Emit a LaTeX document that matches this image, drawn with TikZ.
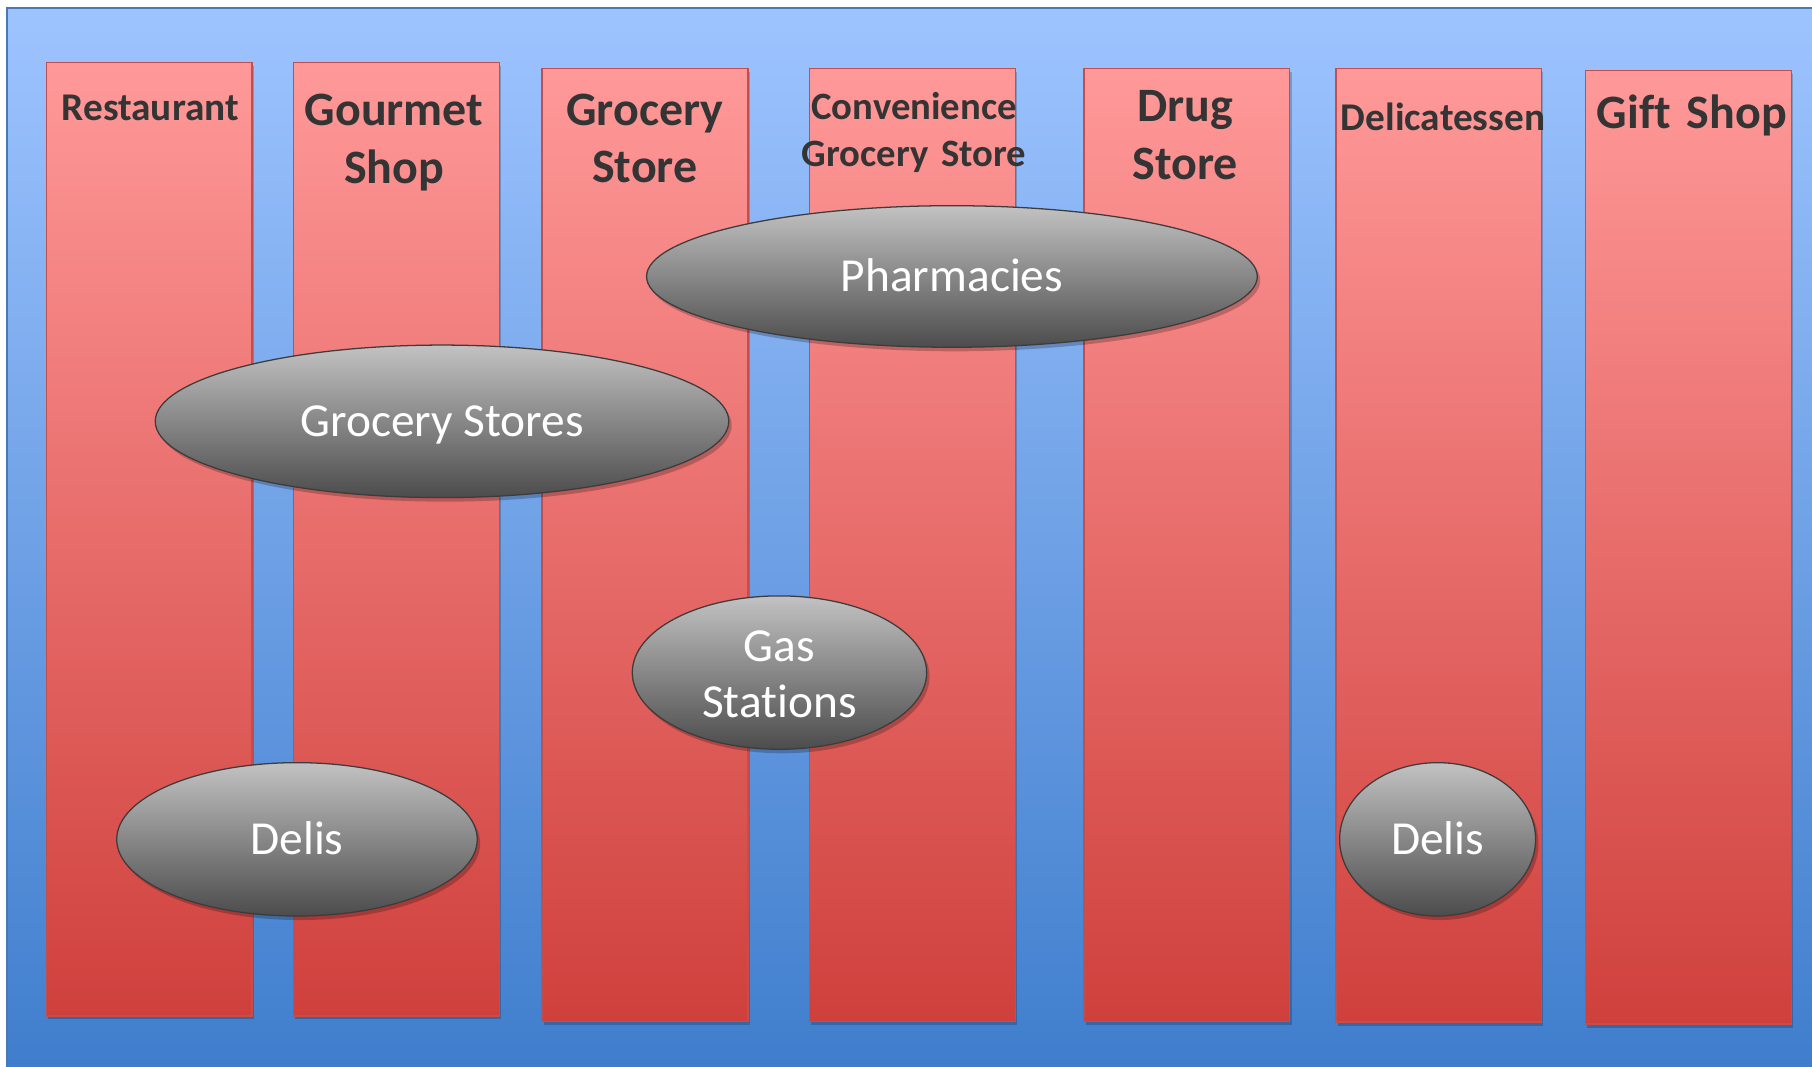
\documentclass[tikz,border=0pt]{standalone}
\usepackage{fontspec}
\setmainfont{Carlito}[Ligatures=NoCommon, BoldFeatures={WordSpace=0.8}]
\usetikzlibrary{shapes.geometric,shadows}
\definecolor{bgtop}{RGB}{158,196,255}
\definecolor{bgbot}{RGB}{62,125,204}
\definecolor{bgline}{RGB}{74,120,180}
\definecolor{coltop}{RGB}{255,153,153}
\definecolor{colbot}{RGB}{207,64,60}
\definecolor{colline}{RGB}{196,78,75}
\definecolor{elltop}{RGB}{194,194,194}
\definecolor{ellbot}{RGB}{76,76,76}
\definecolor{ellline}{RGB}{60,60,60}
\definecolor{titlecol}{RGB}{52,52,52}
\tikzset{
  shopcol/.style={draw=colline, line width=1.2pt, top color=coltop, bottom color=colbot,
    inner sep=0pt, minimum width=178pt, minimum height=825pt, anchor=north west,
    drop shadow={shadow xshift=1.5pt, shadow yshift=-3pt, opacity=0.2, fill=black}},
  shoptitle/.style={text=titlecol, inner sep=0pt, align=center, text width=260pt, anchor=base},
  bigtitle/.style={shoptitle, font=\fontsize{41.5}{50}\selectfont\bfseries},
  smalltitle/.style={shoptitle, font=\fontsize{34}{41}\selectfont\bfseries},
  catoval/.style={ellipse, draw=ellline, line width=1.1pt, top color=elltop, bottom color=ellbot,
    inner sep=0pt, text=white, font=\fontsize{41}{49}\selectfont,
    text height=26.5pt, text depth=0pt,
    drop shadow={shadow xshift=2.5pt, shadow yshift=-3.5pt, opacity=0.22, fill=black}},
}
\begin{document}
\begin{tikzpicture}[x=1pt,y=-1pt]
\useasboundingbox (0,0) rectangle (1568,923);
\clip (0,0) rectangle (1568,923);
\fill[white] (0,0) rectangle (1568,923);
\path[draw=bgline, line width=1.3pt, top color=bgtop, bottom color=bgbot] (6,7) rectangle (1580,935);

% columns
\node[shopcol] (c1) at (39.5,53.5) {};
\node[shopcol] (c2) at (253.5,53.5) {};
\node[shopcol] (c3) at (468.5,58.5) {};
\node[shopcol] (c4) at (700,58.5) {};
\node[shopcol] (c5) at (937.5,58.5) {};
\node[shopcol] (c6) at (1155.5,58.8) {};
\node[shopcol] (c7) at (1371.5,60.6) {};

% titles
\node[smalltitle] (t1) at (130,104.4) {Restaurant};
\node[bigtitle] (t2) at (341,109) {Gourmet\\Shop};
\node[bigtitle] (t3) at (558,108.2) {Grocery\\Store};
\node[smalltitle, font=\fontsize{33.5}{41}\selectfont\bfseries] (t4) at (791,103.3) {Convenience\\Grocery Store};
\node[bigtitle] (t5) at (1025.5,105.3) {Drug\\Store};
\node[smalltitle] (t6) at (1248.7,112.5) {Delicatessen};
\node[bigtitle] (t7) at (1464,111) {Gift Shop};

% categories
\node[catoval, minimum width=528.5pt, minimum height=122.5pt] (pharm) at (823.75,239.25) {Pharmacies};
\node[catoval, minimum width=496.3pt, minimum height=132pt] (groc) at (382.5,364.6) {Grocery Stores};
\node[catoval, minimum width=254.7pt, minimum height=132.7pt, align=center, text width=160pt,
      text height=26.5pt, text depth=46pt] (gas) at (674.5,582) {Gas\\Stations};
\node[catoval, minimum width=312pt, minimum height=132.7pt] (delis1) at (257,726.3) {Delis};
\node[catoval, minimum width=169.6pt, minimum height=132.7pt] (delis2) at (1244,726.3) {Delis};
\end{tikzpicture}
\end{document}
